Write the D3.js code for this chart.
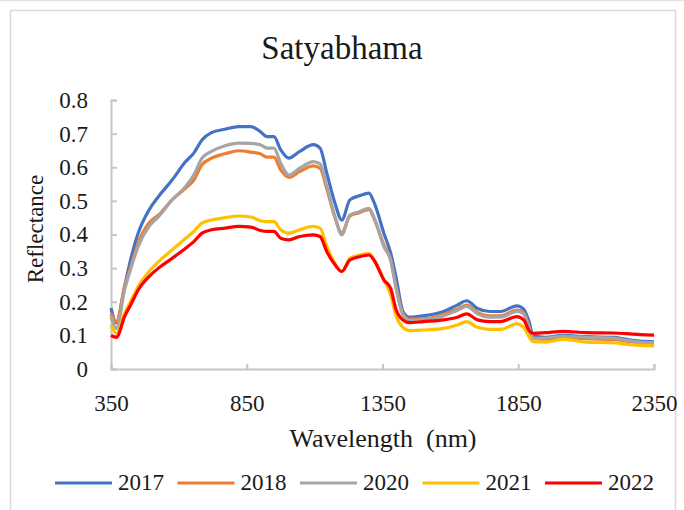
<!DOCTYPE html>
<html>
<head>
<meta charset="utf-8">
<script src="https://cdn.jsdelivr.net/npm/d3@7"></script>
<style>
  body { margin: 0; background: #fff; }
  text { font-family: "Liberation Serif", "Times New Roman", serif; fill: #1a1a1a; }
</style>
</head>
<body>
<div id="chart"></div>
<script>
var width = 684;
var height = 510;
var margin = {top: 100, left: 111, right: 30, bottom: 141};

var wavelength = [350, 370, 400, 425, 450, 490, 525, 575, 625, 655, 685, 720, 770, 820, 865, 900, 925, 950, 975, 1005,
  1045, 1095, 1120, 1145, 1175, 1200, 1230, 1265, 1300, 1320, 1355, 1380, 1400, 1425, 1450, 1500, 1575, 1625, 1660, 1700,
  1745, 1785, 1845, 1870, 1890, 1905, 1950, 2015, 2100, 2200, 2250, 2300, 2350];

var r2017 = [.181, .137, .245, .334, .404, .473, .513, .562, .617, .642, .681, .703, .713, .721, .721, .706, .691, .691, .652, .627,
  .647, .667, .657, .582, .493, .443, .503, .515, .523, .493, .404, .345, .272, .172, .154, .158, .171, .190, .203, .180,
  .171, .171, .188, .178, .140, .100, .094, .100, .096, .094, .088, .083, .081];
var r2018 = [.165, .141, .245, .310, .374, .434, .458, .503, .538, .562, .607, .627, .640, .649, .645, .640, .630, .630, .592, .570,
  .587, .604, .597, .535, .450, .405, .455, .465, .475, .445, .370, .325, .245, .165, .148, .149, .162, .178, .190, .168,
  .158, .158, .175, .167, .125, .092, .088, .094, .090, .088, .082, .078, .076];
var r2020 = [.156, .121, .235, .304, .364, .424, .453, .503, .543, .577, .627, .647, .664, .672, .671, .667, .657, .657, .612, .577,
  .597, .617, .610, .543, .453, .399, .458, .468, .478, .448, .364, .324, .240, .161, .144, .146, .158, .174, .186, .164,
  .154, .154, .171, .164, .121, .091, .092, .097, .094, .092, .085, .080, .078];
var r2021 = [.131, .106, .166, .205, .245, .290, .319, .354, .389, .409, .434, .443, .450, .455, .452, .441, .438, .438, .414, .404,
  .414, .424, .419, .364, .314, .290, .329, .339, .344, .324, .265, .220, .158, .124, .114, .116, .121, .131, .141, .124,
  .118, .118, .134, .124, .096, .081, .080, .088, .080, .078, .073, .070, .069];
var r2022 = [.100, .094, .156, .195, .235, .275, .300, .329, .359, .379, .404, .414, .419, .424, .422, .412, .409, .409, .389, .384,
  .394, .399, .394, .349, .310, .290, .324, .334, .339, .322, .265, .240, .176, .146, .138, .141, .146, .154, .164, .146,
  .141, .141, .156, .146, .114, .106, .108, .112, .108, .107, .105, .102, .101];

var years = ["2017", "2018", "2020", "2021", "2022"];
var colors = ["#4472c4", "#ed7d31", "#a5a5a5", "#ffc000", "#ff0000"];
var seriesValues = [r2017, r2018, r2020, r2021, r2022];

var xTicks = [350, 850, 1350, 1850, 2350];
var yTicks = [0, 0.1, 0.2, 0.3, 0.4, 0.5, 0.6, 0.7, 0.8];

var svg = d3.select("#chart")
  .append("svg")
  .attr("width", width)
  .attr("height", height);

// chart frame
svg.append("line")
  .attr("x1", 0).attr("x2", width)
  .attr("y1", 0.5).attr("y2", 0.5)
  .attr("stroke", "#e3e3e3")
  .attr("stroke-width", 1.5);

svg.append("rect")
  .attr("x", 10.5)
  .attr("y", 10.5)
  .attr("width", 665)
  .attr("height", 520)
  .attr("fill", "none")
  .attr("stroke", "#d9d9d9")
  .attr("stroke-width", 1.5);

var xScale = d3.scaleLinear()
  .domain([350, 2350])
  .range([margin.left, width - margin.right]);

var yScale = d3.scaleLinear()
  .domain([0, 0.8])
  .range([height - margin.bottom, margin.top]);

var xAxis = svg.append("g")
  .attr("class", "axis")
  .attr("transform", `translate(0,${height - margin.bottom})`)
  .call(d3.axisBottom(xScale).tickValues(xTicks).tickFormat(d3.format("d"))
    .tickSizeInner(-5).tickSizeOuter(-5).tickPadding(26));

var yAxis = svg.append("g")
  .attr("class", "axis")
  .attr("transform", `translate(${margin.left},0)`)
  .call(d3.axisLeft(yScale).tickValues(yTicks)
    .tickFormat(function(d) { return d === 0 ? "0" : d.toFixed(1); })
    .tickSizeInner(-6).tickSizeOuter(-6).tickPadding(23));

svg.selectAll(".axis path, .axis line")
  .attr("stroke", "#c6c6c6")
  .attr("stroke-width", 2);

svg.selectAll(".axis text")
  .attr("font-family", "Liberation Serif, serif")
  .attr("font-size", 23)
  .attr("fill", "#1a1a1a");

var line = d3.line()
  .x(function(d) { return xScale(d[0]); })
  .y(function(d) { return yScale(d[1]); })
  .curve(d3.curveMonotoneX);

seriesValues.forEach(function(vals, i) {
  svg.append("path")
    .datum(d3.zip(wavelength, vals))
    .attr("d", line)
    .attr("stroke", colors[i])
    .attr("stroke-width", 3.2)
    .attr("stroke-linejoin", "round")
    .attr("fill", "none");
});

var title = svg.append("text")
  .attr("x", 342)
  .attr("y", 59)
  .attr("text-anchor", "middle")
  .attr("font-size", 33)
  .text("Satyabhama");

var xLabel = svg.append("text")
  .attr("x", 383)
  .attr("y", 447)
  .attr("text-anchor", "middle")
  .attr("font-size", 26)
  .style("white-space", "pre")
  .text("Wavelength  (nm)");

var yLabel = svg.append("text")
  .attr("transform", "translate(43,229) rotate(-90)")
  .attr("text-anchor", "middle")
  .attr("font-size", 23)
  .text("Reflectance");

var legend = svg.selectAll(".legend")
  .data(years)
  .enter()
  .append("g")
  .attr("class", "legend")
  .attr("transform", function(d, i) { return `translate(${55 + i * 122.5},483)`; });

legend.append("line")
  .attr("x1", 0).attr("x2", 57)
  .attr("y1", 0).attr("y2", 0)
  .attr("stroke", function(d, i) { return colors[i]; })
  .attr("stroke-width", 3);

legend.append("text")
  .attr("x", 63)
  .attr("y", 7)
  .attr("font-size", 23)
  .text(function(d) { return d; });
</script>
</body>
</html>
